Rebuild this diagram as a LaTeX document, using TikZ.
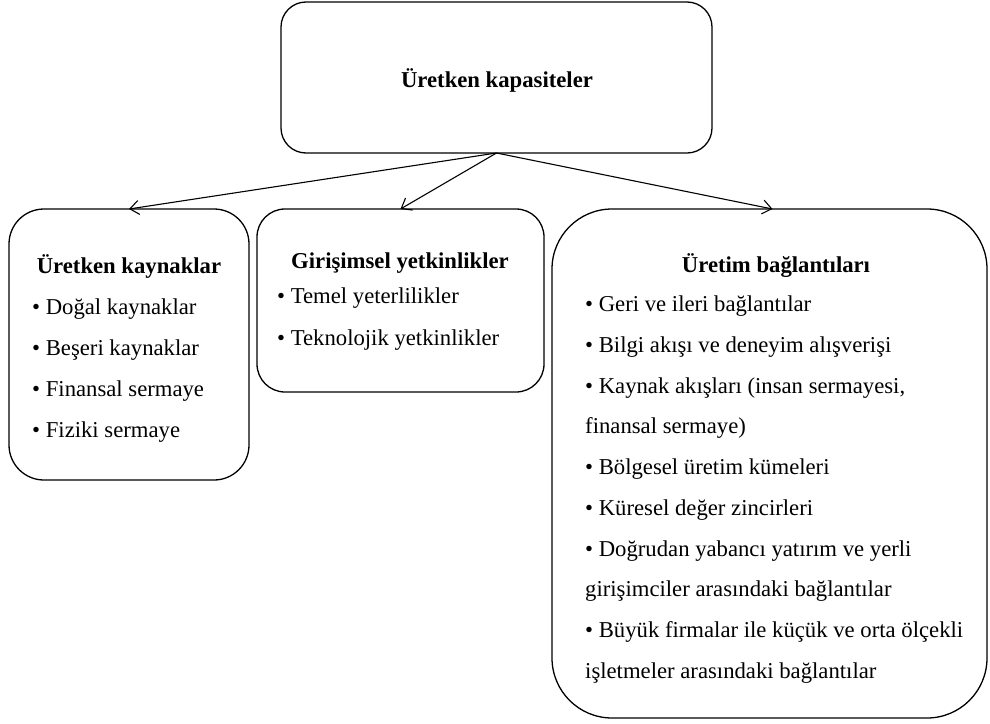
\documentclass[tikz,border=0pt]{standalone}
\usepackage{fontspec}
\setmainfont{Liberation Serif}
\usetikzlibrary{arrows.meta}
\begin{document}
\begin{tikzpicture}[x=1pt,y=-1pt,
  boxshape/.style={draw, line width=1.3pt, inner sep=0pt, outer sep=0pt},
  ttl/.style={anchor=base, inner sep=0pt, font=\fontsize{22.7}{26}\selectfont\bfseries},
  itm/.style={anchor=base west, inner sep=0pt, font=\fontsize{22.7}{26}\selectfont},
  conn/.style={line width=1.1pt, -{Straight Barb[length=9pt,width=14pt,line width=1.1pt]}}]
\useasboundingbox (0,0) rectangle (990,723);
% boxes
\node[boxshape, rounded corners=25pt, minimum width=431pt, minimum height=151pt] (top) at (496.5,77.5) {};
\node[boxshape, rounded corners=35pt, minimum width=240pt, minimum height=271pt] (left) at (129,344.5) {};
\node[boxshape, rounded corners=28pt, minimum width=287pt, minimum height=183pt] (mid) at (400.5,300.5) {};
\node[boxshape, rounded corners=60pt, minimum width=435pt, minimum height=509pt] (right) at (769.5,463.5) {};
% connectors
\draw[conn] (top.south) -- (left.north);
\draw[conn] (top.south) -- (mid.north);
\draw[conn] (top.south) -- ([xshift=3pt]right.north);
% titles
\node[ttl] (ttop) at (497,87) {Üretken kapasiteler};
\node[ttl] (tleft) at (129,273) {Üretken kaynaklar};
\node[ttl] (tmid) at (400,268) {Girişimsel yetkinlikler};
\node[ttl] (tright) at (776,272) {Üretim bağlantıları};
% left items
\node[itm] (l1) at (32,314) {• Doğal kaynaklar};
\node[itm] (l2) at (32,355) {• Beşeri kaynaklar};
\node[itm] (l3) at (32,396) {• Finansal sermaye};
\node[itm] (l4) at (32,437) {• Fiziki sermaye};
% middle items
\node[itm] (m1) at (277,303) {• Temel yeterlilikler};
\node[itm] (m2) at (277,345) {• Teknolojik yetkinlikler};
% right items
\node[itm] (r1) at (585,311) {• Geri ve ileri bağlantılar};
\node[itm] (r2) at (585,352) {• Bilgi akışı ve deneyim alışverişi};
\node[itm] (r3) at (585,393) {• Kaynak akışları (insan sermayesi,};
\node[itm] (r4) at (585,433) {finansal sermaye)};
\node[itm] (r5) at (585,474) {• Bölgesel üretim kümeleri};
\node[itm] (r6) at (585,515) {• Küresel değer zincirleri};
\node[itm] (r7) at (585,556) {• Doğrudan yabancı yatırım ve yerli};
\node[itm] (r8) at (585,596) {girişimciler arasındaki bağlantılar};
\node[itm] (r9) at (585,637) {• Büyük firmalar ile küçük ve orta ölçekli};
\node[itm] (r10) at (585,678) {işletmeler arasındaki bağlantılar};
\end{tikzpicture}
\end{document}
